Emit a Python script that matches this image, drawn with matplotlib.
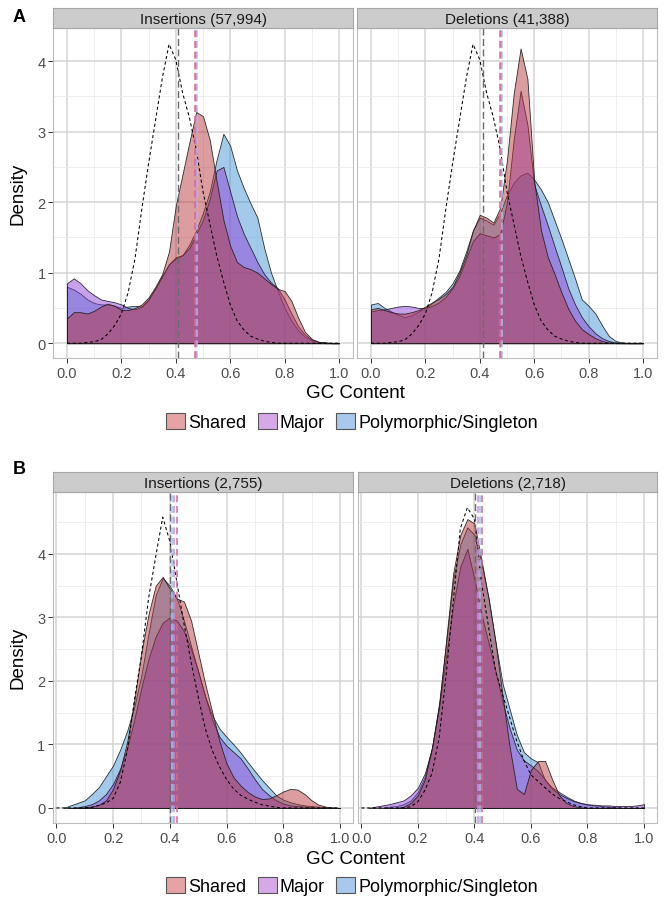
import numpy as np
import matplotlib
matplotlib.use("Agg")
import matplotlib.pyplot as plt
from matplotlib.patches import Patch
from matplotlib.colors import to_rgba
from matplotlib.ticker import MultipleLocator

plt.rcParams['font.family'] = ['Liberation Sans', 'DejaVu Sans']

# GC content grid (step 0.025) on which densities were read
gc = np.round(np.arange(0, 1.0001, 0.025), 3)

groups = ["Shared", "Major", "Polymorphic/Singleton"]
facet_a = ["Insertions (57,994)", "Deletions (41,388)"]
facet_b = ["Insertions (2,755)", "Deletions (2,718)"]

# ---- panel A ----
genome_a = [0, 0, 0, 0.01, 0.02, 0.05, 0.13, 0.25, 0.42, 0.72, 1.2, 1.9, 2.55, 3.15, 3.75, 4.24,
            4.02, 3.55, 3.2, 2.75, 2.15, 1.7, 1.25, 0.88, 0.55, 0.32, 0.19, 0.1, 0.06, 0.03, 0.01,
            0, 0, 0, 0, 0, 0, 0, 0, 0, 0]
a_ins_shared = [0.35, 0.44, 0.44, 0.42, 0.46, 0.52, 0.56, 0.53, 0.47, 0.47, 0.5, 0.55, 0.65, 0.8, 0.98,
                1.3, 1.95, 2.4, 2.85, 3.28, 3.22, 2.88, 2.3, 1.75, 1.38, 1.15, 1.08, 1.05, 1.0, 0.92,
                0.84, 0.77, 0.74, 0.6, 0.36, 0.16, 0.06, 0.02, 0.01, 0, 0]
a_ins_major = [0.85, 0.92, 0.85, 0.75, 0.68, 0.62, 0.6, 0.58, 0.55, 0.5, 0.48, 0.52, 0.62, 0.78, 0.95,
               1.12, 1.2, 1.25, 1.35, 1.55, 1.75, 2.05, 2.45, 2.5, 2.15, 1.8, 1.55, 1.35, 1.15, 0.98,
               0.86, 0.78, 0.62, 0.42, 0.24, 0.12, 0.05, 0.02, 0.01, 0, 0]
a_ins_poly = [0.8, 0.76, 0.7, 0.62, 0.57, 0.55, 0.55, 0.53, 0.5, 0.52, 0.53, 0.52, 0.62, 0.78, 0.95,
              1.12, 1.22, 1.25, 1.4, 1.6, 1.85, 2.15, 2.6, 2.97, 2.8, 2.45, 2.2, 1.98, 1.78, 1.35,
              1.0, 0.74, 0.5, 0.32, 0.18, 0.09, 0.04, 0.01, 0, 0, 0]
a_del_shared = [0.48, 0.5, 0.47, 0.44, 0.42, 0.42, 0.44, 0.47, 0.52, 0.58, 0.63, 0.7, 0.8, 1.0, 1.25,
                1.6, 1.82, 1.78, 1.71, 1.92, 2.6, 3.55, 4.18, 3.75, 2.3, 1.6, 1.22, 0.98, 0.72, 0.49,
                0.32, 0.2, 0.13, 0.07, 0.03, 0.01, 0, 0, 0, 0, 0]
a_del_major = [0.45, 0.47, 0.48, 0.5, 0.52, 0.53, 0.52, 0.5, 0.5, 0.53, 0.58, 0.66, 0.78, 0.95, 1.2,
               1.45, 1.56, 1.53, 1.5, 1.55, 2.0, 2.9, 3.58, 3.1, 2.25, 1.95, 1.67, 1.37, 1.08, 0.78,
               0.55, 0.37, 0.24, 0.14, 0.07, 0.03, 0.01, 0, 0, 0, 0]
a_del_poly = [0.55, 0.57, 0.5, 0.45, 0.4, 0.37, 0.4, 0.45, 0.5, 0.57, 0.65, 0.73, 0.85, 1.03, 1.3,
              1.6, 1.78, 1.74, 1.68, 1.85, 2.1, 2.28, 2.38, 2.42, 2.32, 2.18, 2.0, 1.74, 1.48, 1.2,
              0.92, 0.62, 0.53, 0.42, 0.25, 0.1, 0.03, 0.01, 0, 0, 0]
a_means = [[0.471, 0.475, 0.479], [0.473, 0.478, 0.482]]
a_genome_mean = [0.407, 0.41]

# ---- panel B ----
b_ins_genome = [0, 0, 0, 0, 0, 0.01, 0.04, 0.08, 0.15, 0.4, 0.9, 1.7, 2.4, 3.3, 3.95, 4.58,
                4.2, 3.55, 2.9, 2.3, 1.75, 1.25, 0.9, 0.65, 0.45, 0.3, 0.2, 0.14, 0.09, 0.05, 0.03,
                0.01, 0, 0, 0, 0, 0, 0, 0, 0, 0]
b_ins_shared = [0, 0, 0, 0, 0.01, 0.02, 0.05, 0.12, 0.3, 0.6, 1.05, 1.7, 2.45, 3.05, 3.5, 3.64,
                3.45, 3.3, 3.25, 2.95, 2.45, 1.95, 1.5, 1.05, 0.7, 0.48, 0.35, 0.25, 0.18, 0.14,
                0.15, 0.2, 0.26, 0.3, 0.29, 0.22, 0.12, 0.05, 0.02, 0, 0]
b_ins_major = [0, 0, 0, 0.01, 0.03, 0.06, 0.12, 0.22, 0.38, 0.62, 0.95, 1.4, 1.9, 2.35, 2.7, 2.92,
               3.0, 2.95, 2.78, 2.5, 2.15, 1.75, 1.38, 1.12, 0.98, 0.88, 0.78, 0.62, 0.45, 0.3,
               0.2, 0.12, 0.07, 0.04, 0.03, 0.02, 0.01, 0, 0, 0, 0]
b_ins_poly = [0, 0, 0.04, 0.08, 0.12, 0.22, 0.33, 0.5, 0.67, 0.92, 1.22, 1.6, 2.1, 2.75, 3.35, 3.62,
              3.5, 3.3, 2.95, 2.55, 2.15, 1.75, 1.45, 1.25, 1.12, 1.0, 0.87, 0.72, 0.58, 0.44,
              0.32, 0.2, 0.13, 0.09, 0.06, 0.04, 0.03, 0.02, 0.01, 0.01, 0]
b_del_genome = [0, 0, 0, 0, 0, 0, 0, 0.02, 0.1, 0.28, 0.55, 1.1, 2.1, 3.25, 4.4, 4.73,
                4.55, 3.55, 2.85, 2.15, 1.78, 1.42, 1.05, 0.75, 0.52, 0.42, 0.32, 0.22, 0.15, 0.1,
                0.05, 0.02, 0, 0, 0, 0, 0, 0, 0, 0, 0]
b_del_shared = [0, 0, 0, 0, 0, 0, 0.02, 0.08, 0.2, 0.45, 0.95, 1.6, 2.65, 3.7, 4.3, 4.55,
                4.48, 3.9, 3.3, 2.6, 1.75, 0.95, 0.3, 0.22, 0.6, 0.74, 0.74, 0.45, 0.2, 0.08,
                0.03, 0.01, 0, 0, 0, 0, 0, 0, 0, 0, 0]
b_del_major = [0, 0, 0.02, 0.04, 0.06, 0.09, 0.12, 0.2, 0.32, 0.55, 0.95, 1.6, 2.4, 3.2, 3.8, 4.08,
               3.6, 3.05, 2.6, 2.15, 1.66, 1.25, 0.92, 0.75, 0.67, 0.58, 0.45, 0.3, 0.22, 0.16,
               0.11, 0.08, 0.06, 0.05, 0.04, 0.04, 0.03, 0.03, 0.03, 0.04, 0.06]
b_del_poly = [0, 0, 0, 0, 0.02, 0.03, 0.06, 0.12, 0.25, 0.5, 0.95, 1.65, 2.6, 3.6, 4.15, 4.42,
              4.3, 3.85, 3.3, 2.6, 1.95, 1.55, 1.15, 0.88, 0.78, 0.72, 0.43, 0.32, 0.25, 0.18,
              0.12, 0.08, 0.05, 0.04, 0.03, 0.02, 0.01, 0, 0, 0, 0]
b_means = [[0.424, 0.416, 0.408], [0.428, 0.412, 0.42]]
b_genome_mean = [0.40, 0.402]

fill_cols = ["#B43237", "#8C3CD7", "#4191D7"]
line_cols = ["#DB6A84", "#C393E8", "#9CC6EE"]
legend_cols = ["#E5A3A5", "#D6A8E8", "#A8C8EC"]

W, H = 667, 904
fig = plt.figure(figsize=(W / 100, H / 100), dpi=100)


def box(x0, y0, w, h):
    return [x0 / W, 1 - (y0 + h) / H, w / W, h / H]


def strip(x0, y0, w, label):
    s = fig.add_axes(box(x0, y0, w, 20))
    s.set_facecolor("#CCCCCC")
    s.set_xticks([])
    s.set_yticks([])
    for sp in s.spines.values():
        sp.set_color("#A6A6A6")
        sp.set_linewidth(0.8)
    s.text(0.5, 0.45, label, ha="center", va="center", fontsize=11, color="#1A1A1A",
           transform=s.transAxes)


def facet(rect, xlim, ylim, genome, series, means, gmean, trim, show_y):
    ax = fig.add_axes(box(*rect))
    ax.set_xlim(*xlim)
    ax.set_ylim(*ylim)
    ax.xaxis.set_major_locator(MultipleLocator(0.2))
    ax.xaxis.set_minor_locator(MultipleLocator(0.1))
    ax.yaxis.set_major_locator(MultipleLocator(1))
    ax.yaxis.set_minor_locator(MultipleLocator(0.5))
    ax.grid(which="major", color="#D4D4D4", lw=1.1, zorder=0)
    ax.grid(which="minor", color="#EBEBEB", lw=0.6, zorder=0)
    ax.set_axisbelow(True)
    ax.set_xticks(np.arange(0, 1.01, 0.2))
    ax.set_xticklabels(["0.0", "0.2", "0.4", "0.6", "0.8", "1.0"])
    ax.tick_params(which="minor", length=0)
    ax.tick_params(which="major", length=3.5, width=0.7, color="#333333",
                   labelcolor="#4D4D4D", labelsize=10.5, pad=2)
    if not show_y:
        ax.tick_params(axis="y", length=0, labelleft=False)
    for sp in ax.spines.values():
        sp.set_color("#BDBDBD")
        sp.set_linewidth(0.8)
    # polymorphic first, shared on top
    for vals, col in list(zip(series, fill_cols))[::-1]:
        v = np.array(vals, dtype=float)
        i0 = 0
        if trim:
            nz = np.nonzero(v)[0]
            i0 = max(nz[0] - 1, 0)
        ax.fill_between(gc[i0:], 0, v[i0:], facecolor=to_rgba(col, 0.48),
                        edgecolor=(0.1, 0.1, 0.1, 0.9), linewidth=0.6, zorder=2)
    ax.plot(gc, genome, color="black", lw=0.75, ls=(0, (3, 2.5)), zorder=3)
    ax.axvline(gmean, color="#6A6A6A", lw=1.0, ls=(0, (5, 2.5)), zorder=4)
    for m, col in list(zip(means, line_cols))[::-1]:
        ax.axvline(m, color=col, lw=1.1, ls=(0, (4.5, 2.5)), zorder=4)
    return ax


# panel A
xa = (-0.05, 1.05)
ya = (-0.21, 4.47)
facet((53.4, 29, 299.2, 330), xa, ya, genome_a,
      [a_ins_shared, a_ins_major, a_ins_poly], a_means[0], a_genome_mean[0], False, True)
facet((357.4, 29, 299.2, 330), xa, ya, genome_a,
      [a_del_shared, a_del_major, a_del_poly], a_means[1], a_genome_mean[1], False, False)
strip(53.4, 9, 299.2, facet_a[0])
strip(357.4, 9, 299.2, facet_a[1])

# panel B
xb = (-0.012, 1.046)
yb = (-0.237, 4.976)
facet((53, 493, 300, 331), xb, yb, b_ins_genome,
      [b_ins_shared, b_ins_major, b_ins_poly], b_means[0], b_genome_mean[0], True, True)
facet((358, 493, 299, 331), xb, yb, b_del_genome,
      [b_del_shared, b_del_major, b_del_poly], b_means[1], b_genome_mean[1], True, False)
strip(53, 473, 300, facet_b[0])
strip(358, 473, 299, facet_b[1])

# labels and legends
handles = [Patch(facecolor=c, edgecolor="#555555", linewidth=0.8) for c in legend_cols]
for lab, ytop, yx, yleg, ymid in [("A", 18, 393, 423, 194), ("B", 470, 860, 887, 658)]:
    fig.text(13 / W, 1 - ytop / H, lab, fontsize=13, fontweight="bold", ha="left", va="center")
    fig.text(355 / W, 1 - yx / H, "GC Content", fontsize=13.5, ha="center", va="center")
    fig.text(18 / W, 1 - ymid / H, "Density", fontsize=13.5, rotation=90, ha="center", va="center")
    fig.legend(handles, groups, loc="center", bbox_to_anchor=(352 / W, 1 - yleg / H), ncol=3,
               frameon=False, fontsize=13, handlelength=1.05, handleheight=1.05,
               handletextpad=0.15, columnspacing=0.65, borderpad=0, borderaxespad=0)

fig.savefig("out.png", dpi=100)
